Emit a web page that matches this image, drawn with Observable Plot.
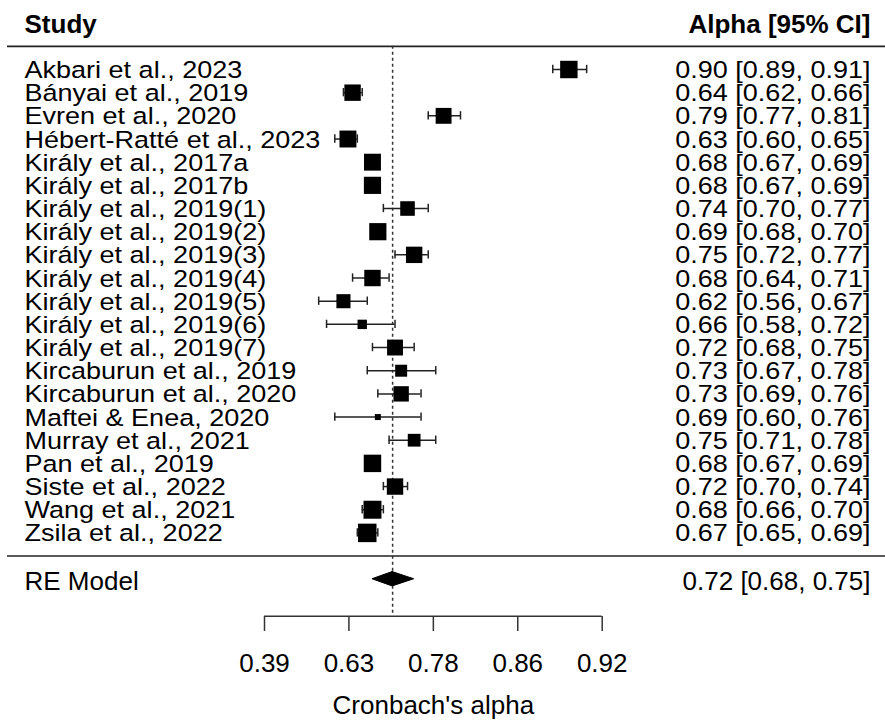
<!DOCTYPE html>
<html><head><meta charset="utf-8">
<script src="https://cdn.jsdelivr.net/npm/d3@7"></script>
<script src="https://cdn.jsdelivr.net/npm/@observablehq/plot@0.6"></script>
<style>body{margin:0;background:#fff} svg{display:block}</style>
</head><body><div id="chart"></div>
<script>
const studies = ["Akbari et al., 2023","Bányai et al., 2019","Evren et al., 2020","Hébert-Ratté et al., 2023","Király et al., 2017a","Király et al., 2017b","Király et al., 2019(1)","Király et al., 2019(2)","Király et al., 2019(3)","Király et al., 2019(4)","Király et al., 2019(5)","Király et al., 2019(6)","Király et al., 2019(7)","Kircaburun et al., 2019","Kircaburun et al., 2020","Maftei & Enea, 2020","Murray et al., 2021","Pan et al., 2019","Siste et al., 2022","Wang et al., 2021","Zsila et al., 2022"];
const alpha = [0.90,0.64,0.79,0.63,0.68,0.68,0.74,0.69,0.75,0.68,0.62,0.66,0.72,0.73,0.73,0.69,0.75,0.68,0.72,0.68,0.67];
const lower = [0.89,0.62,0.77,0.60,0.67,0.67,0.70,0.68,0.72,0.64,0.56,0.58,0.68,0.67,0.69,0.60,0.71,0.67,0.70,0.66,0.65];
const upper = [0.91,0.66,0.81,0.65,0.69,0.69,0.77,0.70,0.77,0.71,0.67,0.72,0.75,0.78,0.76,0.76,0.78,0.69,0.74,0.70,0.69];
const weights = [5.6,5.2,5.0,5.4,5.4,5.5,4.5,5.5,5.2,5.2,4.3,2.5,5.0,3.5,4.8,1.2,3.8,5.6,5.2,5.8,6.0];
const reLabel = "RE Model";
const reAlpha = 0.716, reLower = 0.68, reUpper = 0.75;
const tickValues = [0.5, 1, 1.5, 2, 2.5];
const tickLabels = ["0.39","0.63","0.78","0.86","0.92"];
const headLeft = "Study", headRight = "Alpha [95% CI]";
const axisTitle = "Cronbach's alpha";

const bt = a => -Math.log(1 - a);
const fmt = v => v.toFixed(2);
const rows = studies.map((s, i) => ({
  study: s, alpha: alpha[i], lo: lower[i], hi: upper[i], w: weights[i], row: i,
  label: `${fmt(alpha[i])} [${fmt(lower[i])}, ${fmt(upper[i])}]`
}));
const n = rows.length;
const reRow = n + 1, headRow = -2, axisRow = n + 2.6;
const cap = 0.18, dh = 0.31;
const diamond = [
  {y: reRow - dh, x1: bt(reAlpha), x2: bt(reAlpha)},
  {y: reRow, x1: bt(reLower), x2: bt(reUpper)},
  {y: reRow + dh, x1: bt(reAlpha), x2: bt(reAlpha)}
];
const reText = [{y: reRow, left: reLabel, right: `${fmt(reAlpha)} [${fmt(reLower)}, ${fmt(reUpper)}]`}];
const head = [{y: headRow, left: headLeft, right: headRight}];
const title = [{x: d3.mean(d3.extent(tickValues)), t: axisTitle}];
const font = "'Liberation Sans', Arial, sans-serif";

const chart = Plot.plot({
  width: 885, height: 727,
  marginLeft: 7, marginRight: 0, marginTop: 0, marginBottom: 111,
  style: {fontFamily: font, background: "#fff", color: "#000"},
  x: {domain: [0.5, 2.5], range: [264, 601.7]},
  y: {domain: [0, n - 1], range: [69, 532.4], axis: null},
  r: {type: "linear", domain: [1.2, 6.2], range: [3.39, 10.72]},
  marks: [
    Plot.ruleY([-1, n], {stroke: "#222", strokeWidth: 1.6}),
    Plot.ruleX([reAlpha], {x: bt, y1: -1, y2: axisRow, stroke: "#333", strokeWidth: 1.5, strokeDasharray: "3,3"}),
    Plot.ruleY(rows, {y: "row", x1: d => bt(d.lo), x2: d => bt(d.hi), stroke: "#222", strokeWidth: 1.5}),
    Plot.ruleX(rows, {x: d => bt(d.lo), y1: d => d.row - cap, y2: d => d.row + cap, stroke: "#222", strokeWidth: 1.5}),
    Plot.ruleX(rows, {x: d => bt(d.hi), y1: d => d.row - cap, y2: d => d.row + cap, stroke: "#222", strokeWidth: 1.5}),
    Plot.dot(rows, {x: d => bt(d.alpha), y: "row", r: "w", symbol: "square", fill: "#000", stroke: "none"}),
    Plot.areaX(diamond, {y: "y", x1: "x1", x2: "x2", fill: "#000", stroke: "#000", strokeWidth: 1, curve: "linear"}),
    Plot.ruleY([axisRow], {x1: tickValues[0], x2: tickValues[tickValues.length - 1], stroke: "#333", strokeWidth: 1.5}),
    Plot.axisX({ticks: tickValues, tickFormat: d => tickLabels[tickValues.indexOf(d)], tickSize: 15, tickPadding: 22, fontSize: 26, stroke: "#333", strokeWidth: 1.5, label: null}),
    Plot.text(rows, {y: "row", text: "study", frameAnchor: "left", textAnchor: "start", dx: 17, dy: 1, fontSize: 23.5, fill: "#000"}),
    Plot.text(rows, {y: "row", text: "label", frameAnchor: "right", textAnchor: "end", dx: -15, dy: 1, fontSize: 23.5, fill: "#000"}),
    Plot.text(head, {y: "y", text: "left", frameAnchor: "left", textAnchor: "start", dx: 17, dy: 2, fontSize: 26, fontWeight: "bold", fill: "#000"}),
    Plot.text(head, {y: "y", text: "right", frameAnchor: "right", textAnchor: "end", dx: -15, dy: 2, fontSize: 26, fontWeight: "bold", fill: "#000"}),
    Plot.text(reText, {y: "y", text: "left", frameAnchor: "left", textAnchor: "start", dx: 17, dy: 2, fontSize: 26, fill: "#000"}),
    Plot.text(reText, {y: "y", text: "right", frameAnchor: "right", textAnchor: "end", dx: -15, dy: 2, fontSize: 26, fill: "#000"}),
    Plot.text(title, {x: "x", text: "t", frameAnchor: "bottom", dy: 97.7, fontSize: 26, fill: "#000"})
  ]
});
document.getElementById("chart").appendChild(chart);
chart.querySelectorAll('g[font-size="23.5"] text').forEach(t => {
  const tr = t.getAttribute("transform");
  if (tr) t.setAttribute("transform", tr + " scale(1.15,1)");
  else {
    const x = +t.getAttribute("x") || 0, y = +t.getAttribute("y") || 0;
    t.removeAttribute("x"); t.removeAttribute("y");
    t.setAttribute("transform", `translate(${x},${y}) scale(1.15,1)`);
  }
});
</script>
</body></html>
